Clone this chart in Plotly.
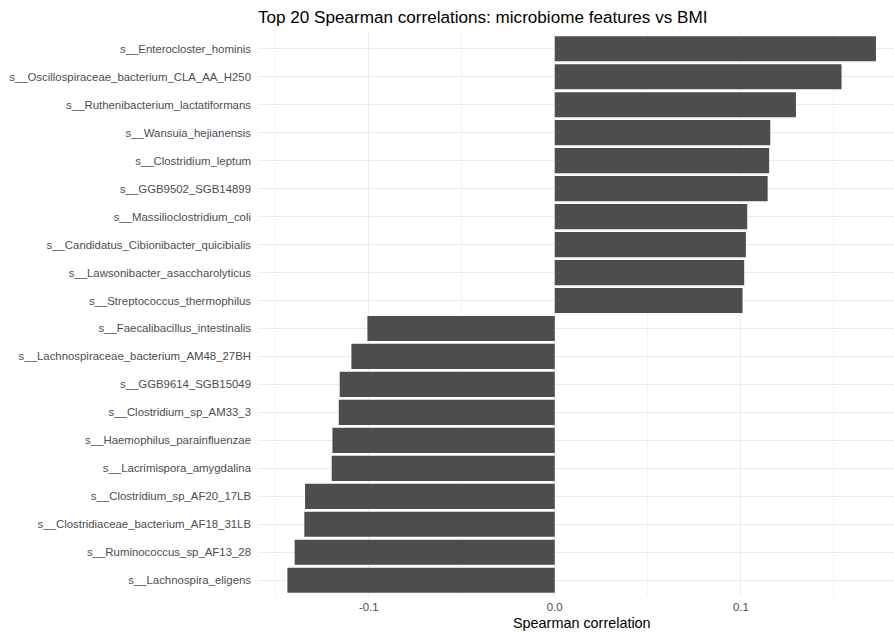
import plotly.graph_objects as go

# Top 20 taxa by |Spearman rho| with BMI, listed top to bottom
features = [
    "s__Enterocloster_hominis",
    "s__Oscillospiraceae_bacterium_CLA_AA_H250",
    "s__Ruthenibacterium_lactatiformans",
    "s__Wansuia_hejianensis",
    "s__Clostridium_leptum",
    "s__GGB9502_SGB14899",
    "s__Massilioclostridium_coli",
    "s__Candidatus_Cibionibacter_quicibialis",
    "s__Lawsonibacter_asaccharolyticus",
    "s__Streptococcus_thermophilus",
    "s__Faecalibacillus_intestinalis",
    "s__Lachnospiraceae_bacterium_AM48_27BH",
    "s__GGB9614_SGB15049",
    "s__Clostridium_sp_AM33_3",
    "s__Haemophilus_parainfluenzae",
    "s__Lacrimispora_amygdalina",
    "s__Clostridium_sp_AF20_17LB",
    "s__Clostridiaceae_bacterium_AF18_31LB",
    "s__Ruminococcus_sp_AF13_28",
    "s__Lachnospira_eligens",
]
rho = [
    0.1726, 0.1541, 0.1296, 0.1158, 0.1152, 0.1144, 0.1034, 0.1027, 0.1018, 0.1009,
    -0.1007, -0.1093, -0.1156, -0.1161, -0.1195, -0.1199, -0.1342, -0.1346, -0.1398, -0.1437,
]
x_ticks = [-0.1, 0.0, 0.1]
x_ticktext = ["-0.1", "0.0", "0.1"]

W, H = 894, 632
L, R, T, B = 258, 0, 32, 35
PLOT_H = H - T - B
FONT = "Liberation Sans, Arial, sans-serif"

fig = go.Figure(
    go.Bar(
        x=rho,
        y=features,
        orientation="h",
        width=0.9,
        marker=dict(color="#4D4D4D", line=dict(width=0)),
        hovertemplate="%{y}: %{x:.3f}<extra></extra>",
    )
)

fig.update_layout(
    width=W,
    height=H,
    margin=dict(l=L, r=R, t=T, b=B, pad=0),
    paper_bgcolor="white",
    plot_bgcolor="white",
    showlegend=False,
    font=dict(family=FONT, color="#4D4D4D"),
    title=dict(
        text="Top 20 Spearman correlations: microbiome features vs BMI",
        x=L / W,
        xanchor="left",
        y=1 - 17 / H,
        yanchor="middle",
        font=dict(family=FONT, size=17.1, color="black"),
    ),
    xaxis=dict(
        range=[-0.1595, 0.1823],
        tickvals=x_ticks,
        ticktext=x_ticktext,
        showgrid=True,
        gridcolor="#EBEBEB",
        gridwidth=1.1,
        zeroline=False,
        showline=False,
        ticks="",
        ticklabelstandoff=2,
        tickfont=dict(size=11.4, color="#4D4D4D"),
        minor=dict(
            tick0=0.05,
            dtick=0.1,
            showgrid=True,
            gridcolor="#F3F3F3",
            gridwidth=0.6,
        ),
    ),
    yaxis=dict(
        categoryorder="array",
        categoryarray=features,
        range=[19.6, -0.6],
        showgrid=True,
        gridcolor="#EBEBEB",
        gridwidth=1.1,
        zeroline=False,
        showline=False,
        ticks="",
        ticklabelstandoff=6,
        tickfont=dict(size=11.4, color="#4D4D4D"),
    ),
    annotations=[
        dict(
            text="Spearman correlation",
            x=(581.5 - L) / (W - L - R),
            y=-(623 - (H - B)) / PLOT_H,
            xref="paper",
            yref="paper",
            xanchor="center",
            yanchor="middle",
            showarrow=False,
            font=dict(family=FONT, size=14.4, color="black"),
        )
    ],
)

fig.write_html("out.html")
